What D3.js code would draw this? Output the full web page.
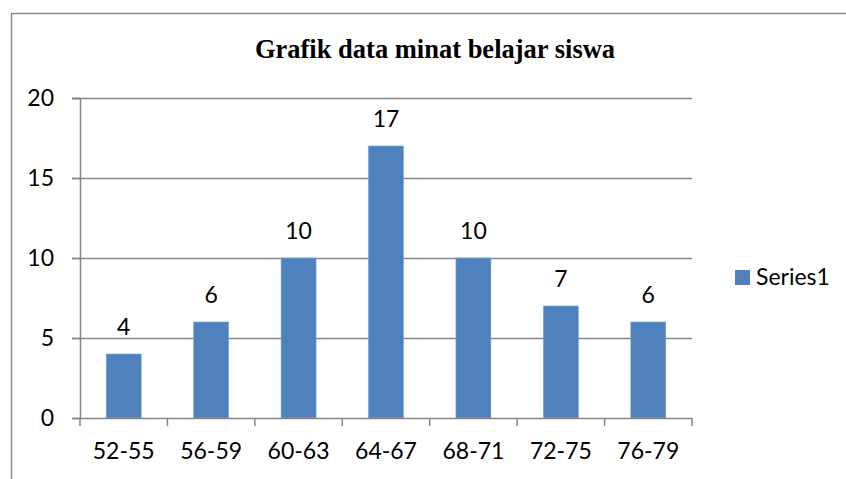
<!DOCTYPE html>
<html><head><meta charset="utf-8">
<script src="https://cdn.jsdelivr.net/npm/d3@7"></script>
<style>html,body{margin:0;padding:0;background:#fff;}</style>
</head><body>
<svg id="chart" width="846" height="479"></svg>
<script>
const categories = ["52-55","56-59","60-63","64-67","68-71","72-75","76-79"];
const values = [4,6,10,17,10,7,6];
const yTicks = [0,5,10,15,20];
const seriesName = "Series1";
const title = "Grafik data minat belajar siswa";

(function(){
const svg = d3.select("#chart");
const W = 846, H = 479;
const mLeft = 80, mRight = 692, mTop = 98, mBottom = 418;
const barColor = "#4F81BD";
const axisColor = "#868686";
const font = "Lato, 'Open Sans', sans-serif";
const fs = 23;

// outer frame (left + top)
svg.append("path").attr("d", `M11.5,${H} L11.5,13.5 L${W},13.5`)
  .attr("fill","none").attr("stroke","#8c8c8c").attr("stroke-width",1.5);

const x = d3.scaleBand().domain(categories).range([mLeft,mRight]).paddingInner(0.6).paddingOuter(0.3);
const xb = d3.scaleBand().domain(categories).range([mLeft,mRight]);
const y = d3.scaleLinear().domain([0,20]).range([mBottom,mTop]);

// gridlines
svg.append("g").selectAll("line").data(yTicks.filter(d=>d>0)).join("line")
  .attr("x1",mLeft-8).attr("x2",mRight).attr("y1",d=>y(d)+0.5).attr("y2",d=>y(d)+0.5)
  .attr("stroke",axisColor).attr("stroke-width",1.5);

// y axis
const yAxis = svg.append("g").attr("transform",`translate(${mLeft},0)`)
  .call(d3.axisLeft(y).tickValues(yTicks).tickSize(8).tickPadding(18));
yAxis.select(".domain").attr("stroke",axisColor).attr("stroke-width",1.5);
yAxis.selectAll(".tick line").attr("stroke",axisColor).attr("stroke-width",1.5);
yAxis.selectAll("text").attr("font-family",font).attr("font-size",fs).attr("fill","#000");

// bars
svg.append("g").selectAll("rect").data(values).join("rect")
  .attr("x",(d,i)=>x(categories[i])).attr("width",x.bandwidth())
  .attr("y",d=>y(d)).attr("height",d=>y(0)-y(d))
  .attr("fill",barColor).attr("stroke","#7fa3d3").attr("stroke-width",0.6);

// x axis
const xAxis = svg.append("g").attr("transform",`translate(0,${mBottom})`)
  .call(d3.axisBottom(xb).tickSize(0).tickPadding(25));
xAxis.select(".domain").attr("stroke",axisColor).attr("stroke-width",1.5);
xAxis.selectAll("text").attr("font-family",font).attr("font-size",fs).attr("fill","#000");
svg.append("g").selectAll("line").data(d3.range(categories.length+1)).join("line")
  .attr("x1",i=>mLeft+i*xb.step()).attr("x2",i=>mLeft+i*xb.step())
  .attr("y1",mBottom).attr("y2",mBottom+8)
  .attr("stroke",axisColor).attr("stroke-width",1.5);

// value labels
svg.append("g").selectAll("text").data(values).join("text")
  .attr("x",(d,i)=>x(categories[i])+x.bandwidth()/2)
  .attr("y",d=>y(d)-19)
  .attr("text-anchor","middle").attr("font-family",font).attr("font-size",fs).attr("fill","#000")
  .text(d=>d);

// title
svg.append("text").attr("x",435).attr("y",58).attr("text-anchor","middle")
  .style("font-family","'Liberation Serif', 'DejaVu Serif', serif").attr("font-weight","bold")
  .attr("font-size",26.5).attr("fill","#000").text(title);

// legend
const lg = svg.append("g").attr("transform","translate(735,270)");
lg.append("rect").attr("width",15).attr("height",15).attr("fill",barColor);
lg.append("text").attr("x",21).attr("y",15).attr("font-family",font).attr("font-size",fs).attr("fill","#000").text(seriesName);
})();
</script>
</body></html>
